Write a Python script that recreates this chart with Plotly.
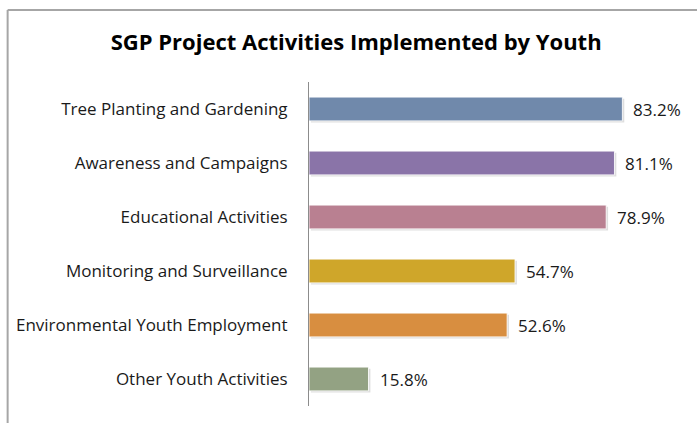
import plotly.graph_objects as go

# Share of SGP projects in which youth carried out each activity (%)
categories = [
    "Tree Planting and Gardening",
    "Awareness and Campaigns",
    "Educational Activities",
    "Monitoring and Surveillance",
    "Environmental Youth Employment",
    "Other Youth Activities",
]
shares = [83.2, 81.1, 78.9, 54.7, 52.6, 15.8]
bar_colors = ["#7089AB", "#8A74A8", "#B98091", "#CFA62A", "#D88E40", "#93A283"]

title_text = "SGP Project Activities Implemented by Youth"
FONT = "Open Sans"

fig = go.Figure()

# soft drop shadow under each bar
fig.add_trace(go.Bar(
    y=categories, x=shares, orientation="h",
    base=0.5, width=0.44, offset=-0.19,
    marker=dict(color="rgba(0,0,0,0.13)", line=dict(width=0)),
    hoverinfo="skip", showlegend=False,
))

# main bars
fig.add_trace(go.Bar(
    y=categories, x=shares, orientation="h",
    width=0.44, offset=-0.22,
    marker=dict(color=bar_colors, line=dict(color="rgba(255,255,255,0.85)", width=1)),
    showlegend=False,
))

# value labels to the right of each bar
for cat, val in zip(categories, shares):
    fig.add_annotation(
        x=val, y=cat, text=f"{val:.1f}%",
        xanchor="left", yanchor="middle", xshift=9, showarrow=False,
        font=dict(family=FONT, size=17, color="#1a1a1a"),
    )

# outer chart border (left and top edges)
fig.add_shape(type="line", xref="paper", yref="paper",
              x0=-0.889, x1=-0.889, y0=1.222, y1=-0.1,
              line=dict(color="#A6A6A6", width=2))
fig.add_shape(type="line", xref="paper", yref="paper",
              x0=-0.889, x1=1.3, y0=1.222, y1=1.222,
              line=dict(color="#A6A6A6", width=2))

fig.update_layout(
    width=697, height=423,
    margin=dict(l=309, r=49, t=82, b=17),
    paper_bgcolor="white", plot_bgcolor="white",
    barmode="overlay",
    title=dict(text=f"<b>{title_text}</b>", x=0.511, xanchor="center",
               y=0.9, yanchor="middle",
               font=dict(family=FONT, size=22, color="black")),
    xaxis=dict(range=[0, 90], visible=False, showgrid=False, zeroline=False),
    yaxis=dict(autorange="reversed", showline=True, linecolor="#8C8C8C", linewidth=1,
               ticks="", ticklabelstandoff=17, showgrid=False,
               tickfont=dict(family=FONT, size=17, color="#1a1a1a")),
    font=dict(family=FONT),
)

fig.write_html("out.html")
